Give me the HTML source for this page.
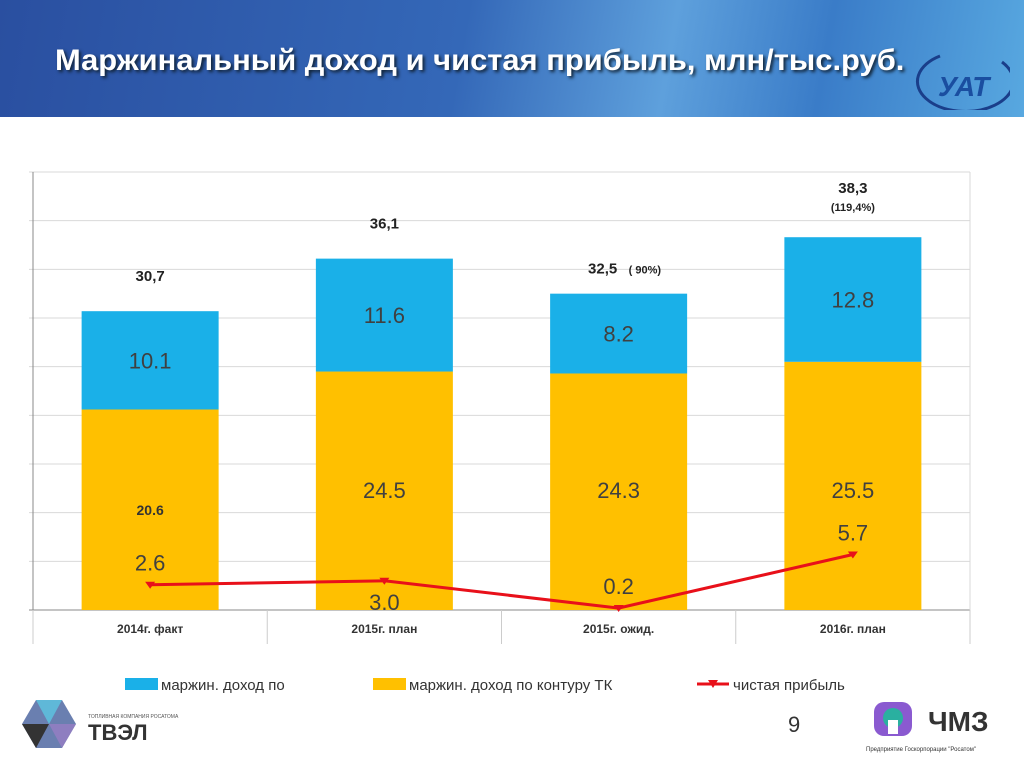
<!DOCTYPE html>
<html><head><meta charset="utf-8"><style>
body{margin:0;width:1024px;height:768px;overflow:hidden;background:#fff;font-family:"Liberation Sans",sans-serif;position:relative}
#hdr{position:absolute;left:0;top:0;width:1024px;height:117px;background:linear-gradient(100deg,#2a4fa0 0%,#3468b8 45%,#5ea0dc 65%,#3a7cc8 80%,#58a8e0 100%)}
#title{position:absolute;left:55px;top:44px;font-size:30px;font-weight:bold;color:#fff;text-shadow:2px 2px 3px #123;transform:scaleX(1.03);transform-origin:left top;white-space:nowrap}
.abs{position:absolute}
</style></head><body>
<div id="hdr"></div>
<div id="title">Маржинальный доход и чистая прибыль, млн/тыс.руб.</div>
<svg class="abs" style="left:910px;top:48px" width="100" height="62">
<path d="M30 8 A48 30 0 1 0 92 14" fill="none" stroke="#1a3e8a" stroke-width="3"/>
<text x="28" y="48" font-family="Liberation Sans" font-weight="bold" font-style="italic" font-size="28" fill="#1a4ea0">УАТ</text></svg>
<svg class="abs" style="left:0;top:0" width="1024" height="768" id="chart"></svg>
<div class="abs" style="left:22px;top:700px;width:54px;height:48px">
<svg width="54" height="48"><polygon points="14,0 40,0 54,24 40,48 14,48 0,24" fill="#6a7fb0"/><polygon points="14,0 40,0 27,24" fill="#5fb8d8"/><polygon points="0,24 27,24 14,48" fill="#333"/><polygon points="27,24 54,24 40,48" fill="#8e7ec0"/></svg></div>
<div class="abs" style="left:88px;top:714px;font-size:5px;color:#555">ТОПЛИВНАЯ КОМПАНИЯ РОСАТОМА</div>
<div class="abs" style="left:88px;top:720px;font-size:22px;font-weight:bold;color:#333">ТВЭЛ</div>
<div class="abs" style="left:788px;top:712px;font-size:22px;color:#333">9</div>
<svg class="abs" style="left:868px;top:698px" width="50" height="44"><rect x="6" y="4" width="38" height="34" rx="10" fill="#8a5ad0"/><circle cx="25" cy="20" r="10" fill="#2ab0a0"/><rect x="20" y="22" width="10" height="14" fill="#fff"/></svg>
<div class="abs" style="left:928px;top:706px;font-size:28px;font-weight:bold;color:#333">ЧМЗ</div>
<div class="abs" style="left:866px;top:747px;font-size:6px;color:#333">Предприятие Госкорпорации "Росатом"</div>
<script>
const categories=["2014г. факт","2015г. план","2015г. ожид.","2016г. план"];
const yellowVals=[20.6,24.5,24.3,25.5];
const blueVals=[10.1,11.6,8.2,12.8];
const profitVals=[2.6,3.0,0.2,5.7];
const totalLabels=["30,7","36,1","32,5","38,3"];
const pctLabels=["","","( 90%)","(119,4%)"];
const yMax=45, yStep=5;
const svg=document.getElementById('chart');
const NS="http://www.w3.org/2000/svg";
const L=33,R=970,T=172,B=610;
const y=v=>B-(v/yMax)*(B-T);
const cw=(R-L)/categories.length, bw=137;
const cx=i=>L+cw*(i+0.5);
function mk(t,a,txt){const e=document.createElementNS(NS,t);for(const k in a)e.setAttribute(k,a[k]);if(txt!==undefined)e.textContent=txt;svg.appendChild(e);return e;}
for(let v=0;v<=yMax;v+=yStep){const g=mk('line',{x1:L-4,x2:R,y1:y(v),y2:y(v),stroke:v?'#d9d9d9':'#888','stroke-width':1});

}
const ax=mk('line',{x1:L,x2:L,y1:T,y2:B,stroke:'#888'});


mk('line',{x1:R,x2:R,y1:T,y2:B,stroke:'#d9d9d9'});
categories.forEach((c,i)=>{
 const x0=cx(i)-bw/2;
 const yb=mk('rect',{x:x0,y:y(yellowVals[i]),width:bw,height:B-y(yellowVals[i]),fill:'#ffc000'});
 
 
 const tot=yellowVals[i]+blueVals[i];
 const bb=mk('rect',{x:x0,y:y(tot),width:bw,height:y(yellowVals[i])-y(tot),fill:'#1ab0e8'});
 
 
 mk('text',{x:cx(i),y:(y(tot)+y(yellowVals[i]))/2+8,'text-anchor':'middle','font-size':22,fill:'#404040'},blueVals[i].toFixed(1));
 if(i===0) mk('text',{x:cx(i),y:515,'text-anchor':'middle','font-size':14,'font-weight':'bold',fill:'#333'},yellowVals[i].toFixed(1));
 else mk('text',{x:cx(i),y:498,'text-anchor':'middle','font-size':22,fill:'#404040'},yellowVals[i].toFixed(1));
 const tl=mk('text',{x:cx(i)-(pctLabels[i]&&i===2?16:0),y:y(tot)-(pctLabels[i]&&i===3?44:(i===2?20:30)),'text-anchor':'middle','font-size':15,'font-weight':'bold',fill:'#222'},totalLabels[i]);
 
 
 if(i===2) mk('text',{x:cx(i)+10,y:y(tot)-20,'font-size':11,'font-weight':'bold',fill:'#222'},pctLabels[i]);
 if(i===3) mk('text',{x:cx(i),y:y(tot)-26,'text-anchor':'middle','font-size':11,'font-weight':'bold',fill:'#222'},pctLabels[i]);
 mk('text',{x:cx(i),y:633,'text-anchor':'middle','font-size':12,'font-weight':'bold',fill:'#333'},c);
 if(i>0){mk('line',{x1:L+cw*i,x2:L+cw*i,y1:B,y2:B+34,stroke:'#ccc'});}
});
mk('line',{x1:L,x2:L,y1:B,y2:B+34,stroke:'#ccc'});mk('line',{x1:R,x2:R,y1:B,y2:B+34,stroke:'#ccc'});
const pts=profitVals.map((v,i)=>cx(i)+','+y(v)).join(' ');
const pl=mk('polyline',{points:pts,fill:'none',stroke:'#e8101a','stroke-width':3});


profitVals.forEach((v,i)=>{
 const m=mk('path',{d:`M${cx(i)-5} ${y(v)-3}L${cx(i)+5} ${y(v)-3}L${cx(i)} ${y(v)+4}Z`,fill:'#e8101a'});
 
 
 mk('text',{x:cx(i),y:i===1?y(v)+29:y(v)-14,'text-anchor':'middle','font-size':22,fill:'#404040'},v.toFixed(1));
});
function leg(x,name,kind,label){
 if(kind==='line'){mk('line',{x1:x,x2:x+32,y1:684,y2:684,stroke:'#e8101a','stroke-width':3});mk('path',{d:`M${x+11} 680L${x+21} 680L${x+16} 688Z`,fill:'#e8101a'});}
 else mk('rect',{x:x,y:678,width:33,height:12,fill:kind});
 const t=mk('text',{x:x+36,y:690,'font-size':15,fill:'#333'},label);
 
 
}
leg(125,'legend-blue','#1ab0e8','маржин. доход по');
leg(373,'legend-yellow','#ffc000','маржин. доход по контуру ТК');
leg(697,'legend-profit','line','чистая прибыль');
</script>
</body></html>
